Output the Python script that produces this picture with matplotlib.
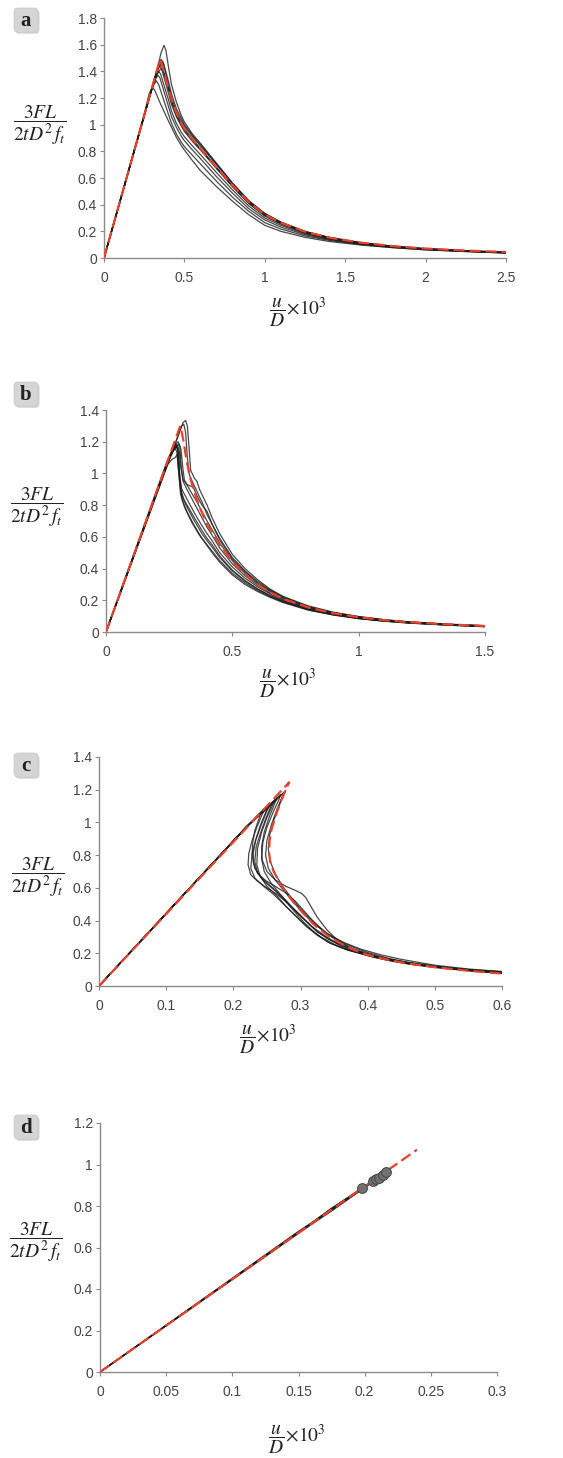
import matplotlib
matplotlib.use("Agg")
import matplotlib.pyplot as plt
from matplotlib.patches import FancyBboxPatch
from matplotlib.transforms import IdentityTransform
from matplotlib.ticker import FuncFormatter

plt.rcParams['mathtext.fontset'] = 'stix'
plt.rcParams['font.family'] = ['Liberation Sans', 'DejaVu Sans']

W, H = 563, 1458

# ---------------- data: panel a ----------------
A_TAIL_X = [0.42, 0.45, 0.48, 0.5, 0.55, 0.6, 0.7, 0.8, 0.9, 1.0, 1.1, 1.25, 1.4, 1.6, 1.8, 2.0, 2.25, 2.5]
A_HEAD_X = [
    [0, 0.33, 0.355, 0.373, 0.385, 0.40],
    [0, 0.315, 0.34, 0.355, 0.368, 0.40],
    [0, 0.32, 0.345, 0.36, 0.372, 0.40],
    [0, 0.31, 0.335, 0.35, 0.362, 0.40],
    [0, 0.305, 0.33, 0.345, 0.358, 0.40],
    [0, 0.31, 0.34, 0.355, 0.368, 0.40],
    [0, 0.30, 0.325, 0.34, 0.352, 0.40],
    [0, 0.295, 0.32, 0.335, 0.348, 0.40],
    [0, 0.285, 0.31, 0.325, 0.34, 0.40],
    [0, 0.255, 0.28, 0.30, 0.315, 0.35, 0.40],
]
A_HEAD_Y = [
    [0, 1.41, 1.54, 1.595, 1.56, 1.44],
    [0, 1.35, 1.45, 1.49, 1.47, 1.30],
    [0, 1.37, 1.44, 1.47, 1.45, 1.33],
    [0, 1.32, 1.42, 1.455, 1.43, 1.28],
    [0, 1.30, 1.40, 1.44, 1.42, 1.24],
    [0, 1.32, 1.40, 1.42, 1.40, 1.27],
    [0, 1.28, 1.37, 1.40, 1.38, 1.19],
    [0, 1.26, 1.34, 1.37, 1.35, 1.14],
    [0, 1.22, 1.30, 1.33, 1.30, 1.08],
    [0, 1.10, 1.23, 1.28, 1.26, 1.16, 1.03],
]
A_TAIL_Y = [
    [1.30, 1.17, 1.07, 1.02, 0.93, 0.86, 0.71, 0.56, 0.43, 0.335, 0.27, 0.20, 0.155, 0.115, 0.088, 0.070, 0.055, 0.043],
    [1.20, 1.10, 1.03, 0.99, 0.91, 0.84, 0.70, 0.555, 0.425, 0.33, 0.265, 0.197, 0.153, 0.113, 0.087, 0.069, 0.054, 0.042],
    [1.23, 1.12, 1.05, 1.00, 0.92, 0.85, 0.705, 0.56, 0.43, 0.332, 0.268, 0.198, 0.154, 0.114, 0.088, 0.070, 0.055, 0.042],
    [1.18, 1.08, 1.01, 0.97, 0.89, 0.82, 0.68, 0.54, 0.415, 0.32, 0.26, 0.19, 0.148, 0.110, 0.085, 0.067, 0.053, 0.041],
    [1.15, 1.06, 0.99, 0.95, 0.875, 0.81, 0.67, 0.535, 0.41, 0.315, 0.256, 0.188, 0.146, 0.109, 0.084, 0.066, 0.052, 0.040],
    [1.17, 1.07, 1.00, 0.96, 0.88, 0.815, 0.675, 0.535, 0.41, 0.317, 0.257, 0.19, 0.147, 0.110, 0.085, 0.067, 0.052, 0.040],
    [1.10, 1.01, 0.945, 0.91, 0.84, 0.775, 0.64, 0.51, 0.39, 0.30, 0.245, 0.182, 0.142, 0.106, 0.082, 0.065, 0.051, 0.040],
    [1.06, 0.98, 0.915, 0.88, 0.81, 0.745, 0.61, 0.485, 0.37, 0.285, 0.232, 0.175, 0.138, 0.104, 0.081, 0.064, 0.050, 0.039],
    [1.01, 0.93, 0.87, 0.835, 0.77, 0.705, 0.575, 0.455, 0.35, 0.265, 0.217, 0.166, 0.132, 0.100, 0.078, 0.062, 0.049, 0.038],
    [0.98, 0.905, 0.845, 0.81, 0.73, 0.655, 0.535, 0.425, 0.325, 0.245, 0.20, 0.155, 0.124, 0.097, 0.077, 0.061, 0.048, 0.037],
]
A_RED_X = [0, 0.348, 0.37, 0.40, 0.42, 0.45, 0.48, 0.5, 0.55, 0.6, 0.7, 0.8, 0.9, 1.0, 1.1, 1.25, 1.4, 1.6, 1.8, 2.0, 2.25, 2.5]
A_RED_Y = [0, 1.49, 1.41, 1.27, 1.19, 1.09, 1.01, 0.97, 0.89, 0.82, 0.68, 0.545, 0.42, 0.325, 0.265, 0.197, 0.153, 0.115, 0.089, 0.071, 0.056, 0.045]

# ---------------- data: panel b ----------------
B_TAIL_X = [0.45, 0.5, 0.55, 0.6, 0.65, 0.7, 0.8, 0.9, 1.0, 1.1, 1.2, 1.35, 1.5]
B_HEAD_X = [
    [0, 0.27, 0.295, 0.305, 0.315, 0.322, 0.328, 0.335, 0.35, 0.36, 0.37, 0.385, 0.40, 0.42],
    [0, 0.27, 0.29, 0.30, 0.308, 0.315, 0.322, 0.33, 0.35, 0.38, 0.40, 0.42],
    [0, 0.25, 0.272, 0.285, 0.292, 0.297, 0.305, 0.32, 0.35, 0.38, 0.40, 0.42],
    [0, 0.245, 0.265, 0.275, 0.283, 0.29, 0.30, 0.32, 0.35, 0.38, 0.40, 0.42],
    [0, 0.25, 0.27, 0.28, 0.287, 0.292, 0.30, 0.32, 0.35, 0.38, 0.40, 0.42],
    [0, 0.24, 0.26, 0.27, 0.28, 0.287, 0.295, 0.31, 0.35, 0.38, 0.40, 0.42],
    [0, 0.24, 0.262, 0.274, 0.282, 0.288, 0.295, 0.31, 0.34, 0.37, 0.40, 0.42],
    [0, 0.255, 0.278, 0.29, 0.297, 0.303, 0.31, 0.33, 0.36, 0.38, 0.40, 0.42],
    [0, 0.25, 0.27, 0.28, 0.287, 0.293, 0.30, 0.32, 0.35, 0.38, 0.40, 0.42],
    [0, 0.25, 0.272, 0.283, 0.29, 0.297, 0.305, 0.32, 0.335, 0.345, 0.36, 0.38, 0.40, 0.42],
]
B_HEAD_Y = [
    [0, 1.17, 1.28, 1.32, 1.335, 1.30, 1.18, 1.02, 0.97, 0.95, 0.90, 0.85, 0.80, 0.72],
    [0, 1.17, 1.26, 1.30, 1.31, 1.26, 1.10, 0.99, 0.92, 0.82, 0.74, 0.68],
    [0, 1.10, 1.17, 1.20, 1.17, 1.05, 0.95, 0.90, 0.81, 0.72, 0.66, 0.61],
    [0, 1.08, 1.16, 1.19, 1.15, 1.00, 0.90, 0.84, 0.75, 0.67, 0.62, 0.575],
    [0, 1.09, 1.15, 1.17, 1.13, 0.97, 0.86, 0.79, 0.70, 0.62, 0.575, 0.535],
    [0, 1.07, 1.14, 1.16, 1.14, 1.02, 0.90, 0.83, 0.72, 0.64, 0.59, 0.55],
    [0, 1.05, 1.09, 1.10, 1.12, 1.00, 0.87, 0.79, 0.69, 0.61, 0.55, 0.51],
    [0, 1.12, 1.17, 1.185, 1.15, 1.05, 0.96, 0.90, 0.82, 0.76, 0.70, 0.645],
    [0, 1.10, 1.16, 1.18, 1.12, 0.95, 0.84, 0.76, 0.67, 0.59, 0.545, 0.50],
    [0, 1.10, 1.16, 1.18, 1.14, 1.03, 0.96, 0.93, 0.92, 0.915, 0.86, 0.80, 0.76, 0.68],
]
B_TAIL_Y = [
    [0.62, 0.49, 0.40, 0.33, 0.27, 0.225, 0.165, 0.125, 0.098, 0.078, 0.064, 0.050, 0.040],
    [0.59, 0.47, 0.385, 0.32, 0.265, 0.22, 0.16, 0.122, 0.096, 0.077, 0.063, 0.049, 0.039],
    [0.53, 0.43, 0.355, 0.295, 0.245, 0.205, 0.15, 0.115, 0.090, 0.072, 0.060, 0.047, 0.037],
    [0.50, 0.41, 0.34, 0.285, 0.24, 0.20, 0.147, 0.113, 0.088, 0.071, 0.059, 0.046, 0.036],
    [0.47, 0.385, 0.32, 0.27, 0.228, 0.193, 0.142, 0.110, 0.086, 0.070, 0.058, 0.045, 0.035],
    [0.48, 0.39, 0.325, 0.272, 0.23, 0.195, 0.144, 0.111, 0.087, 0.070, 0.058, 0.045, 0.035],
    [0.45, 0.37, 0.31, 0.262, 0.222, 0.19, 0.14, 0.108, 0.085, 0.069, 0.057, 0.044, 0.034],
    [0.56, 0.45, 0.37, 0.305, 0.255, 0.213, 0.155, 0.118, 0.092, 0.074, 0.061, 0.048, 0.037],
    [0.44, 0.36, 0.30, 0.255, 0.218, 0.186, 0.138, 0.107, 0.084, 0.068, 0.056, 0.043, 0.033],
    [0.58, 0.46, 0.38, 0.31, 0.26, 0.218, 0.158, 0.12, 0.094, 0.075, 0.062, 0.048, 0.038],
]
B_RED_X = [0, 0.294, 0.305, 0.315, 0.33, 0.35, 0.375, 0.40, 0.45, 0.5, 0.55, 0.6, 0.65, 0.7, 0.8, 0.9, 1.0, 1.1, 1.2, 1.35, 1.5]
B_RED_Y = [0, 1.30, 1.22, 1.12, 0.99, 0.88, 0.77, 0.68, 0.55, 0.445, 0.365, 0.30, 0.25, 0.21, 0.155, 0.118, 0.093, 0.075, 0.062, 0.048, 0.038]

# ---------------- data: panel c ----------------
C_X = [
    [0, 0.22, 0.24, 0.26, 0.272, 0.278, 0.275, 0.268, 0.26, 0.254, 0.252, 0.255, 0.263, 0.275, 0.29, 0.305, 0.32, 0.34, 0.36, 0.38, 0.40, 0.43, 0.46, 0.5, 0.55, 0.6],
    [0, 0.22, 0.24, 0.258, 0.27, 0.268, 0.26, 0.25, 0.244, 0.242, 0.246, 0.256, 0.27, 0.285, 0.30, 0.315, 0.335, 0.355, 0.375, 0.40, 0.43, 0.46, 0.5, 0.55, 0.6],
    [0, 0.22, 0.24, 0.255, 0.262, 0.259, 0.25, 0.242, 0.236, 0.235, 0.24, 0.25, 0.265, 0.28, 0.295, 0.31, 0.33, 0.35, 0.37, 0.40, 0.43, 0.46, 0.5, 0.55, 0.6],
    [0, 0.22, 0.24, 0.252, 0.255, 0.25, 0.242, 0.234, 0.228, 0.226, 0.232, 0.245, 0.26, 0.275, 0.29, 0.305, 0.325, 0.345, 0.37, 0.40, 0.43, 0.46, 0.5, 0.55, 0.6],
    [0, 0.22, 0.235, 0.245, 0.248, 0.243, 0.235, 0.228, 0.223, 0.222, 0.226, 0.236, 0.25, 0.265, 0.28, 0.295, 0.31, 0.325, 0.345, 0.37, 0.40, 0.43, 0.46, 0.5, 0.55, 0.6],
    [0, 0.22, 0.24, 0.256, 0.265, 0.262, 0.254, 0.246, 0.242, 0.243, 0.25, 0.262, 0.278, 0.292, 0.302, 0.308, 0.315, 0.325, 0.34, 0.355, 0.37, 0.39, 0.42, 0.46, 0.5, 0.55, 0.6],
    [0, 0.22, 0.24, 0.253, 0.258, 0.255, 0.248, 0.24, 0.234, 0.232, 0.236, 0.246, 0.26, 0.275, 0.29, 0.305, 0.32, 0.34, 0.36, 0.385, 0.41, 0.44, 0.47, 0.5, 0.55, 0.6],
    [0, 0.22, 0.232, 0.24, 0.238, 0.232, 0.229, 0.228, 0.232, 0.242, 0.256, 0.272, 0.288, 0.305, 0.32, 0.34, 0.36, 0.38, 0.41, 0.44, 0.47, 0.5, 0.55, 0.6],
    [0, 0.22, 0.24, 0.258, 0.27, 0.275, 0.272, 0.265, 0.257, 0.25, 0.248, 0.252, 0.262, 0.276, 0.29, 0.305, 0.32, 0.34, 0.365, 0.39, 0.42, 0.45, 0.5, 0.55, 0.6],
    [0, 0.22, 0.238, 0.248, 0.252, 0.248, 0.24, 0.233, 0.23, 0.23, 0.236, 0.248, 0.262, 0.278, 0.292, 0.305, 0.318, 0.335, 0.355, 0.38, 0.41, 0.44, 0.47, 0.5, 0.55, 0.6],
]
C_Y = [
    [0, 0.975, 1.05, 1.12, 1.17, 1.195, 1.17, 1.10, 1.01, 0.92, 0.84, 0.76, 0.68, 0.60, 0.52, 0.45, 0.39, 0.32, 0.27, 0.235, 0.205, 0.17, 0.145, 0.122, 0.10, 0.085],
    [0, 0.975, 1.05, 1.12, 1.17, 1.14, 1.07, 0.97, 0.88, 0.78, 0.70, 0.63, 0.56, 0.49, 0.43, 0.37, 0.31, 0.26, 0.225, 0.195, 0.163, 0.14, 0.118, 0.097, 0.083],
    [0, 0.975, 1.05, 1.11, 1.14, 1.11, 1.03, 0.94, 0.84, 0.74, 0.67, 0.61, 0.55, 0.48, 0.42, 0.36, 0.30, 0.255, 0.22, 0.19, 0.16, 0.137, 0.115, 0.095, 0.08],
    [0, 0.975, 1.05, 1.10, 1.11, 1.07, 0.99, 0.90, 0.81, 0.72, 0.66, 0.61, 0.56, 0.50, 0.44, 0.38, 0.31, 0.26, 0.22, 0.185, 0.157, 0.135, 0.113, 0.093, 0.078],
    [0, 0.975, 1.04, 1.08, 1.09, 1.05, 0.97, 0.89, 0.81, 0.74, 0.68, 0.64, 0.60, 0.56, 0.51, 0.45, 0.39, 0.33, 0.28, 0.235, 0.195, 0.163, 0.14, 0.117, 0.096, 0.08],
    [0, 0.975, 1.05, 1.11, 1.15, 1.12, 1.04, 0.94, 0.85, 0.77, 0.70, 0.65, 0.61, 0.585, 0.565, 0.54, 0.49, 0.42, 0.34, 0.28, 0.24, 0.205, 0.17, 0.143, 0.12, 0.10, 0.088],
    [0, 0.975, 1.05, 1.10, 1.12, 1.09, 1.02, 0.93, 0.85, 0.76, 0.69, 0.64, 0.59, 0.53, 0.46, 0.39, 0.33, 0.27, 0.235, 0.205, 0.175, 0.15, 0.13, 0.117, 0.096, 0.082],
    [0, 0.975, 1.02, 1.05, 1.02, 0.95, 0.88, 0.80, 0.72, 0.66, 0.61, 0.55, 0.48, 0.41, 0.35, 0.29, 0.245, 0.212, 0.178, 0.152, 0.132, 0.116, 0.095, 0.079],
    [0, 0.975, 1.05, 1.12, 1.165, 1.18, 1.15, 1.08, 0.99, 0.89, 0.80, 0.72, 0.65, 0.58, 0.51, 0.44, 0.38, 0.32, 0.265, 0.225, 0.19, 0.163, 0.127, 0.104, 0.088],
    [0, 0.975, 1.04, 1.08, 1.10, 1.06, 0.98, 0.89, 0.82, 0.75, 0.69, 0.645, 0.61, 0.57, 0.52, 0.46, 0.40, 0.33, 0.275, 0.225, 0.185, 0.158, 0.136, 0.118, 0.097, 0.081],
]
C_RED_X = [0, 0.283, 0.278, 0.27, 0.263, 0.257, 0.254, 0.253, 0.255, 0.26, 0.268, 0.278, 0.29, 0.305, 0.32, 0.34, 0.36, 0.38, 0.40, 0.43, 0.46, 0.5, 0.55, 0.6]
C_RED_Y = [0, 1.245, 1.20, 1.12, 1.04, 0.96, 0.89, 0.82, 0.76, 0.70, 0.64, 0.575, 0.51, 0.44, 0.375, 0.31, 0.26, 0.22, 0.19, 0.16, 0.137, 0.115, 0.093, 0.076]

# ---------------- data: panel d ----------------
D_PEAK_X = [0.198, 0.206, 0.2085, 0.211, 0.2135, 0.216]
D_PEAK_Y = [0.888, 0.919, 0.928, 0.937, 0.948, 0.962]
D_MID_X = [0.15, 0.175]
D_MID_Y = [
    [0.672, 0.785], [0.675, 0.778], [0.670, 0.790], [0.678, 0.782], [0.668, 0.776], [0.674, 0.788],
]
D_RED_X = [0, 0.2395]
D_RED_Y = [0, 1.071]

# ---------------- layout ----------------
PANELS = [
    dict(label='a', box=(104, 18, 506, 258), xlim=2.5, ylim=1.8,
         xt=[0, 0.5, 1, 1.5, 2, 2.5], yt=[0, 0.2, 0.4, 0.6, 0.8, 1, 1.2, 1.4, 1.6, 1.8],
         lab=(26, 20), ylab=(40, 125), xlab=(298, 312)),
    dict(label='b', box=(106, 410, 485, 632), xlim=1.5, ylim=1.4,
         xt=[0, 0.5, 1, 1.5], yt=[0, 0.2, 0.4, 0.6, 0.8, 1, 1.2, 1.4],
         lab=(26, 394), ylab=(37, 507), xlab=(288, 683)),
    dict(label='c', box=(99, 757, 502, 986), xlim=0.6, ylim=1.4,
         xt=[0, 0.1, 0.2, 0.3, 0.4, 0.5, 0.6], yt=[0, 0.2, 0.4, 0.6, 0.8, 1, 1.2, 1.4],
         lab=(26, 765), ylab=(38, 877), xlab=(268, 1039)),
    dict(label='d', box=(100, 1123, 497, 1372), xlim=0.3, ylim=1.2,
         xt=[0, 0.05, 0.1, 0.15, 0.2, 0.25, 0.3], yt=[0, 0.2, 0.4, 0.6, 0.8, 1, 1.2],
         lab=(26, 1127), ylab=(36, 1242), xlab=(297, 1439)),
]

BLACK = '#1c1c1c'
RED = '#e8412c'
fig = plt.figure(figsize=(W / 100, H / 100), dpi=100)

fmt = FuncFormatter(lambda v, p: ('%g' % round(v, 3)))
axes = []
for P in PANELS:
    l, t, r, b = P['box']
    ax = fig.add_axes([l / W, 1 - b / H, (r - l) / W, (b - t) / H])
    ax.set_xlim(0, P['xlim'])
    ax.set_ylim(0, P['ylim'])
    ax.set_xticks(P['xt'])
    ax.set_yticks(P['yt'])
    ax.xaxis.set_major_formatter(fmt)
    ax.yaxis.set_major_formatter(fmt)
    for s in ['top', 'right']:
        ax.spines[s].set_visible(False)
    for s in ['left', 'bottom']:
        ax.spines[s].set_color('#8a8a8a')
        ax.spines[s].set_linewidth(1.0)
    ax.tick_params(axis='both', direction='out', length=3, width=0.8, color='#8a8a8a',
                   labelsize=10, labelcolor='#444444')
    ax.tick_params(axis='x', pad=6)
    ax.tick_params(axis='y', pad=2)
    ax.patch.set_visible(False)
    axes.append(ax)

    # panel label box
    cx, cy = P['lab']
    bw = 24
    x0, y0 = cx - bw / 2, H - cy - bw / 2
    shadow = FancyBboxPatch((x0 + 1.5, y0 - 1.8), bw, bw,
                            boxstyle='round,pad=0,rounding_size=4',
                            transform=IdentityTransform(), fc='#b8b8b8', ec='none', alpha=0.6)
    boxp = FancyBboxPatch((x0, y0), bw, bw, boxstyle='round,pad=0,rounding_size=4',
                          transform=IdentityTransform(), fc='#d5d5d5', ec='#c8c8c8', lw=0.5)
    fig.add_artist(shadow)
    fig.add_artist(boxp)
    fig.text(cx / W, 1 - (cy + 1) / H, P['label'], ha='center', va='center',
             fontsize=15, fontweight='bold', family='Liberation Serif', color='#222222')

    yx, yy = P['ylab']
    fig.text(yx / W, 1 - yy / H, r'$\dfrac{3FL}{2tD^2\,f_t}$', ha='center', va='center',
             fontsize=14, color='#222222')
    xx, xy = P['xlab']
    fig.text(xx / W, 1 - xy / H, r'$\dfrac{u}{D}\!\times\!10^3$', ha='center', va='center',
             fontsize=14, color='#222222')

lw_b = 0.9
dash = (0, (5, 2.2))

# panel a
ax = axes[0]
for hx, hy, ty in zip(A_HEAD_X, A_HEAD_Y, A_TAIL_Y):
    ax.plot(hx + A_TAIL_X, hy + ty, color=BLACK, lw=lw_b, alpha=0.8, zorder=2)
ax.plot(A_RED_X, A_RED_Y, color=RED, lw=1.6, ls=dash, zorder=3)

# panel b
ax = axes[1]
for hx, hy, ty in zip(B_HEAD_X, B_HEAD_Y, B_TAIL_Y):
    ax.plot(hx + B_TAIL_X, hy + ty, color=BLACK, lw=lw_b, alpha=0.8, zorder=2)
ax.plot(B_RED_X, B_RED_Y, color=RED, lw=1.6, ls=dash, zorder=3)

# panel c
ax = axes[2]
for xs, ys in zip(C_X, C_Y):
    ax.plot(xs, ys, color=BLACK, lw=lw_b, alpha=0.8, zorder=2)
ax.plot(C_RED_X, C_RED_Y, color=RED, lw=1.6, ls=dash, zorder=3)

# panel d
ax = axes[3]
for px, py, my in zip(D_PEAK_X, D_PEAK_Y, D_MID_Y):
    ax.plot([0] + D_MID_X + [px], [0] + my + [py], color=BLACK, lw=lw_b, alpha=0.8, zorder=2)
ax.plot(D_RED_X, D_RED_Y, color=RED, lw=1.6, ls=dash, zorder=3)
ax.plot(D_PEAK_X, D_PEAK_Y, 'o', ms=7, mfc='#727272', mec='#4a4a4a', mew=0.8, ls='none', zorder=4)

fig.savefig('out.png', dpi=100)
